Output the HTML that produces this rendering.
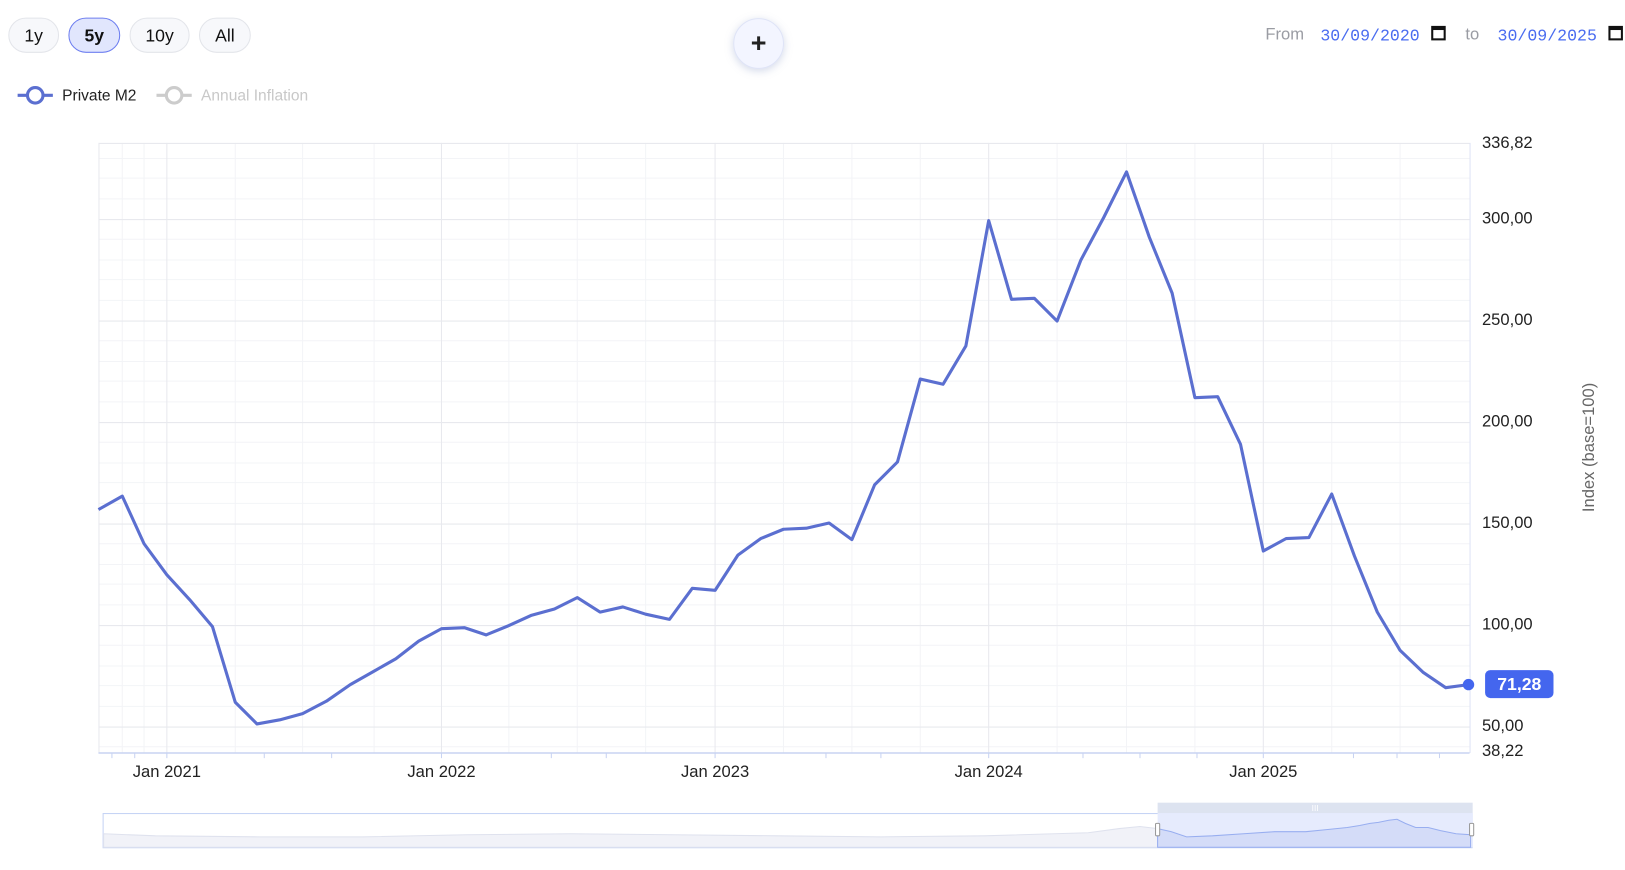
<!DOCTYPE html>
<html><head><meta charset="utf-8"><style>
html,body{margin:0;padding:0;background:#fff;}
svg{display:block;font-family:"Liberation Sans",sans-serif;}
</style></head><body>
<svg width="1625" height="870" viewBox="0 0 1568 840" preserveAspectRatio="none" xmlns="http://www.w3.org/2000/svg">
<defs>
<filter id="sh" x="-50%" y="-50%" width="200%" height="200%"><feDropShadow dx="0" dy="2" stdDeviation="4" flood-color="#8090c0" flood-opacity="0.35"/></filter>
</defs>
<!-- buttons -->
<g font-size="17" text-anchor="middle">
<rect x="8.5" y="17.5" width="48" height="33" rx="16.5" fill="#f7f8fb" stroke="#e3e5ea"/>
<text x="32.5" y="40" fill="#111">1y</text>
<rect x="66.5" y="17.5" width="49" height="33" rx="16.5" fill="#e1e6fd" stroke="#6d7ef0"/>
<text x="91" y="40" fill="#111" font-weight="bold">5y</text>
<rect x="125.5" y="17.5" width="57" height="33" rx="16.5" fill="#f7f8fb" stroke="#e3e5ea"/>
<text x="154" y="40" fill="#111">10y</text>
<rect x="192.5" y="17.5" width="49" height="33" rx="16.5" fill="#f7f8fb" stroke="#e3e5ea"/>
<text x="217" y="40" fill="#111">All</text>
</g>
<circle cx="732" cy="42" r="24" fill="#f3f5ff" stroke="#dfe4f7" filter="url(#sh)"/>
<text x="732" y="50" font-size="26" font-weight="bold" text-anchor="middle" fill="#222">+</text>
<!-- dates -->
<text x="1221" y="38" font-size="16" fill="#9a9ca3">From</text>
<text x="1274" y="39" font-size="16" fill="#4a6cf0" font-family="Liberation Mono,monospace">30/09/2020</text>
<rect x="1382" y="26" width="12" height="12" fill="none" stroke="#111" stroke-width="2"/><rect x="1382" y="26" width="12" height="3" fill="#111"/>
<text x="1414" y="38" font-size="16" fill="#9a9ca3">to</text>
<text x="1445" y="39" font-size="16" fill="#4a6cf0" font-family="Liberation Mono,monospace">30/09/2025</text>
<rect x="1553" y="26" width="12" height="12" fill="none" stroke="#111" stroke-width="2"/><rect x="1553" y="26" width="12" height="3" fill="#111"/>
<!-- legend -->
<line x1="17" y1="92" x2="51" y2="92" stroke="#5b6fd0" stroke-width="3"/>
<circle cx="34" cy="92" r="7.5" fill="#fff" stroke="#5b6fd0" stroke-width="3"/>
<text x="60" y="97" font-size="15" fill="#222">Private M2</text>
<line x1="151" y1="92" x2="185" y2="92" stroke="#cccccc" stroke-width="3"/>
<circle cx="168" cy="92" r="7.5" fill="#fff" stroke="#cccccc" stroke-width="3"/>
<text x="194" y="97" font-size="15" fill="#c8c8c8">Annual Inflation</text>
<!-- grid -->
<g stroke="#f3f4f7" stroke-width="1">
<line x1="95" x2="1418" y1="682" y2="682"/><line x1="95" x2="1418" y1="662" y2="662"/><line x1="95" x2="1418" y1="643" y2="643"/><line x1="95" x2="1418" y1="623" y2="623"/>
<line x1="95" x2="1418" y1="584" y2="584"/><line x1="95" x2="1418" y1="564" y2="564"/><line x1="95" x2="1418" y1="545" y2="545"/><line x1="95" x2="1418" y1="525" y2="525"/>
<line x1="95" x2="1418" y1="486" y2="486"/><line x1="95" x2="1418" y1="466" y2="466"/><line x1="95" x2="1418" y1="447" y2="447"/><line x1="95" x2="1418" y1="427" y2="427"/>
<line x1="95" x2="1418" y1="388" y2="388"/><line x1="95" x2="1418" y1="368" y2="368"/><line x1="95" x2="1418" y1="349" y2="349"/><line x1="95" x2="1418" y1="329" y2="329"/>
<line x1="95" x2="1418" y1="290" y2="290"/><line x1="95" x2="1418" y1="270" y2="270"/><line x1="95" x2="1418" y1="251" y2="251"/><line x1="95" x2="1418" y1="231" y2="231"/>
<line x1="95" x2="1418" y1="192" y2="192"/><line x1="95" x2="1418" y1="172" y2="172"/><line x1="95" x2="1418" y1="153" y2="153"/><line x1="95" x2="1418" y1="721" y2="721"/>
<line x1="118" x2="118" y1="138" y2="727"/><line x1="139" x2="139" y1="138" y2="727"/><line x1="227" x2="227" y1="138" y2="727"/><line x1="292" x2="292" y1="138" y2="727"/><line x1="361" x2="361" y1="138" y2="727"/>
<line x1="491" x2="491" y1="138" y2="727"/><line x1="557" x2="557" y1="138" y2="727"/><line x1="623" x2="623" y1="138" y2="727"/>
<line x1="756" x2="756" y1="138" y2="727"/><line x1="822" x2="822" y1="138" y2="727"/><line x1="888" x2="888" y1="138" y2="727"/>
<line x1="1020" x2="1020" y1="138" y2="727"/><line x1="1087" x2="1087" y1="138" y2="727"/><line x1="1153" x2="1153" y1="138" y2="727"/>
<line x1="1285" x2="1285" y1="138" y2="727"/><line x1="1351" x2="1351" y1="138" y2="727"/>
</g>
<g stroke="#e8e9ee" stroke-width="1">
<line x1="95" x2="1418" y1="138.5" y2="138.5"/>
<line x1="95" x2="1418" y1="212" y2="212"/><line x1="95" x2="1418" y1="310" y2="310"/><line x1="95" x2="1418" y1="408" y2="408"/>
<line x1="95" x2="1418" y1="506" y2="506"/><line x1="95" x2="1418" y1="604" y2="604"/><line x1="95" x2="1418" y1="702" y2="702"/>
<line x1="161" x2="161" y1="138" y2="727"/><line x1="426" x2="426" y1="138" y2="727"/><line x1="690" x2="690" y1="138" y2="727"/><line x1="954" x2="954" y1="138" y2="727"/><line x1="1219" x2="1219" y1="138" y2="727"/>
<line x1="95.5" x2="95.5" y1="138" y2="727"/><line x1="1418.5" x2="1418.5" y1="138" y2="727" stroke="#dde3f5"/>
</g>
<line x1="95" x2="1418" y1="727" y2="727" stroke="#c8d3f2" stroke-width="1.5"/>
<g stroke="#c8d3f2"><line x1="108" x2="108" y1="727" y2="732"/><line x1="130" x2="130" y1="727" y2="732"/><line x1="161" x2="161" y1="727" y2="732"/><line x1="255" x2="255" y1="727" y2="732"/><line x1="320" x2="320" y1="727" y2="732"/><line x1="426" x2="426" y1="727" y2="732"/><line x1="532" x2="532" y1="727" y2="732"/><line x1="585" x2="585" y1="727" y2="732"/><line x1="690" x2="690" y1="727" y2="732"/><line x1="797" x2="797" y1="727" y2="732"/><line x1="850" x2="850" y1="727" y2="732"/><line x1="954" x2="954" y1="727" y2="732"/><line x1="1045" x2="1045" y1="727" y2="732"/><line x1="1100" x2="1100" y1="727" y2="732"/><line x1="1155" x2="1155" y1="727" y2="732"/><line x1="1219" x2="1219" y1="727" y2="732"/><line x1="1306" x2="1306" y1="727" y2="732"/><line x1="1348" x2="1348" y1="727" y2="732"/><line x1="1389" x2="1389" y1="727" y2="732"/></g>
<!-- axis labels -->
<g font-size="16" fill="#222">
<text x="1430" y="143">336,82</text><text x="1430" y="216">300,00</text><text x="1430" y="314">250,00</text><text x="1430" y="412">200,00</text>
<text x="1430" y="510">150,00</text><text x="1430" y="608">100,00</text><text x="1430" y="706">50,00</text><text x="1430" y="730">38,22</text>
</g>
<g font-size="16" fill="#222" text-anchor="middle">
<text x="161" y="750">Jan 2021</text><text x="426" y="750">Jan 2022</text><text x="690" y="750">Jan 2023</text><text x="954" y="750">Jan 2024</text><text x="1219" y="750">Jan 2025</text>
</g>
<text transform="translate(1538,432) rotate(-90)" font-size="16" fill="#666" text-anchor="middle">Index (base=100)</text>
<!-- series -->
<polyline fill="none" stroke="#5b6fd0" stroke-width="3" stroke-linejoin="round" points="95,492 118,479 139,525 161,555 183,579 205,605 227,678 248,699 270,695 292,689 315,677 338,661 361,648 382,636 404,619 426,607 448,606 469,613 491,604 513,594 535,588 557,577 579,591 601,586 623,593 646,598 668,568 690,570 712,536 734,520 756,511 778,510 800,505 822,521 844,468 866,446 888,366 910,371 932,334 954,213 976,289 998,288 1020,310 1043,251 1065,210 1087,166 1109,229 1131,283 1153,384 1175,383 1197,429 1219,532 1241,520 1263,519 1285,477 1307,537 1329,591 1351,628 1373,649 1395,664 1417,661"/>
<circle cx="1417" cy="661" r="5.5" fill="#4466ee"/>
<rect x="1433" y="647" width="66" height="27" rx="5" fill="#4466ee"/>
<text x="1466" y="666" font-size="17" font-weight="bold" fill="#fff" text-anchor="middle">71,28</text>
<!-- navigator -->
<rect x="99.5" y="785.5" width="1321" height="33" fill="#fff" stroke="#c5d3f5"/>
<polygon fill="#f1f2f8" stroke="#dfe2ee" points="100,805 150,807 250,808 350,808 450,806 550,805 650,806 750,807 850,808 950,807 1050,804 1080,800 1100,798 1117,800 1117,818 100,818"/>
<rect x="1117" y="775" width="304" height="10" fill="#dde3f0"/>
<rect x="1117" y="785" width="304" height="33" fill="#e6ebfd"/>
<polygon fill="#d4dcf8" stroke="#98aef0" points="1117,800 1130,803 1145,808 1170,807 1200,805 1230,803 1260,803 1280,801 1300,799 1312,797 1322,795 1330,794 1340,792 1348,791 1356,795 1366,799 1378,799 1390,802 1405,805 1419,806 1419,818 1117,818"/>
<rect x="1115" y="795" width="4" height="12" rx="1" fill="#fff" stroke="#999"/>
<rect x="1418" y="795" width="4" height="12" rx="1" fill="#fff" stroke="#999"/>
<text x="1269" y="783" font-size="8" fill="#fff" text-anchor="middle">III</text>
</svg>
</body></html>
